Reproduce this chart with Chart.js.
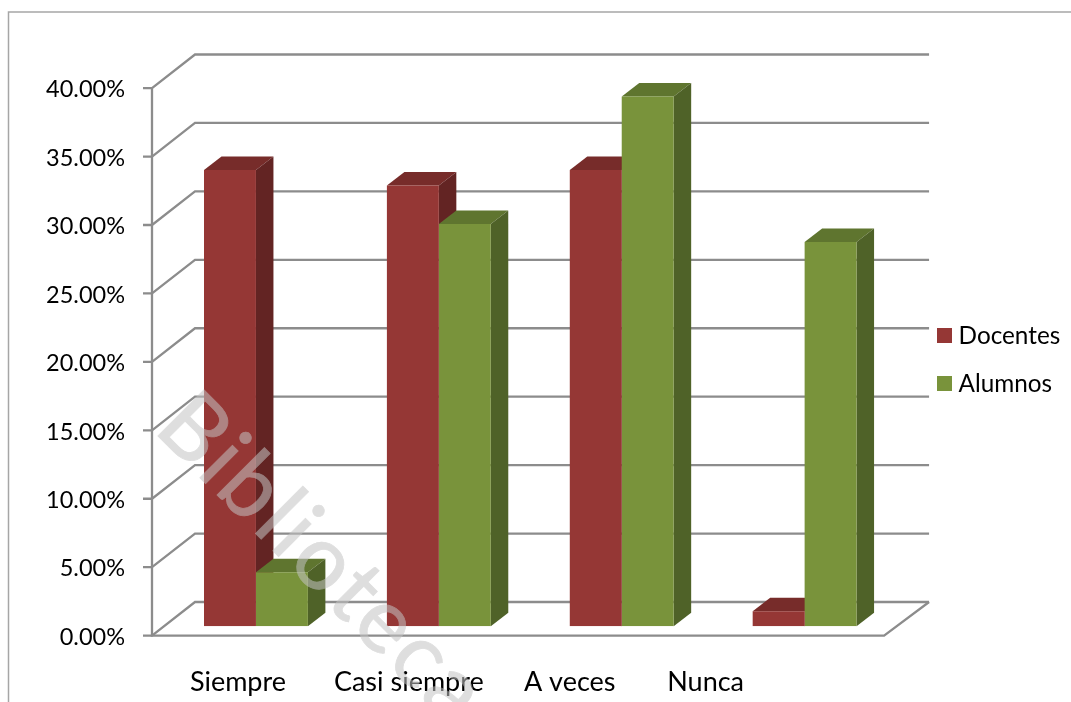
<!DOCTYPE html>
<html>
<head>
<meta charset="utf-8">
<style>html,body{margin:0;padding:0;background:#fff}canvas{display:block}</style>
<script src="https://cdn.jsdelivr.net/npm/chart.js@4"></script>
</head>
<body>
<canvas id="c" width="1071" height="702"></canvas>
<script>
const categories = ['Siempre', 'Casi siempre', 'A veces', 'Nunca'];
const docentes = [33.33, 32.2, 33.33, 1.1];
const alumnos = [3.95, 29.4, 38.7, 28.07];
const yMax = 40;
const yStep = 5;
const labelShift = [-18, -30, -52, -99];
const FONT = 'Lato';
const depth = { x: 17.5, y: 13.5 };
const wall = { frontX: -12.5, frontY: 9.3, backX: 30.5, backY: -24.3 };
const colors = ['#953735', '#79933b'];
const shades = [
  { top: '#772c2a', side: '#632423' },
  { top: '#5f752f', side: '#4f6228' }
];

function marker(color) {
  const m = document.createElement('canvas');
  m.width = 15; m.height = 15;
  const g = m.getContext('2d');
  g.fillStyle = color;
  g.fillRect(0, 0, 15, 15);
  return m;
}

const scene = {
  id: 'scene',
  beforeDatasetsDraw(chart) {
    const { ctx, chartArea: a, scales: { y } } = chart;
    ctx.save();
    ctx.strokeStyle = '#a6a6a6'; ctx.lineWidth = 1.5;
    ctx.beginPath(); ctx.moveTo(1071, 12); ctx.lineTo(8.5, 12); ctx.lineTo(8.5, 702); ctx.stroke();
    ctx.strokeStyle = '#8c8c8c'; ctx.lineWidth = 2.3;
    const fl = a.left + wall.frontX, bl = a.left + wall.backX, br = a.right + 33;
    for (let v = 0; v <= yMax; v += yStep) {
      const p = y.getPixelForValue(v);
      ctx.beginPath();
      ctx.moveTo(fl - 9, p + wall.frontY);
      ctx.lineTo(fl, p + wall.frontY);
      ctx.lineTo(bl, p + wall.backY);
      ctx.lineTo(br, p + wall.backY);
      ctx.stroke();
    }
    const p0 = y.getPixelForValue(0), pT = y.getPixelForValue(yMax);
    ctx.beginPath();
    ctx.moveTo(fl, pT + wall.frontY);
    ctx.lineTo(fl, p0 + wall.frontY);
    ctx.lineTo(a.right - 12, p0 + wall.frontY);
    ctx.lineTo(br, p0 + wall.backY);
    ctx.stroke();
    chart.data.datasets.forEach((ds, i) => {
      chart.getDatasetMeta(i).data.forEach(b => {
        const l = b.x - b.width / 2, r = b.x + b.width / 2;
        ctx.fillStyle = shades[i].top;
        ctx.beginPath();
        ctx.moveTo(l, b.y); ctx.lineTo(l + depth.x, b.y - depth.y);
        ctx.lineTo(r + depth.x, b.y - depth.y); ctx.lineTo(r, b.y);
        ctx.closePath(); ctx.fill();
        ctx.fillStyle = shades[i].side;
        ctx.beginPath();
        ctx.moveTo(r, b.y); ctx.lineTo(r + depth.x, b.y - depth.y);
        ctx.lineTo(r + depth.x, b.base - depth.y); ctx.lineTo(r, b.base);
        ctx.closePath(); ctx.fill();
      });
    });
    ctx.restore();
  },
  afterDraw(chart) {
    const { ctx, scales: { x } } = chart;
    ctx.save();
    ctx.fillStyle = '#000';
    ctx.font = '27px ' + FONT;
    ctx.textAlign = 'center';
    ctx.textBaseline = 'middle';
    categories.forEach((c, i) => ctx.fillText(c, x.getPixelForTick(i) + labelShift[i], 682));
    ctx.restore();
    // watermark: text with a stroke on its own layer, composited at one alpha
    const layer = document.createElement('canvas');
    layer.width = chart.width; layer.height = chart.height;
    const w = layer.getContext('2d');
    w.translate(152, 430);
    w.rotate(45 * Math.PI / 180);
    w.font = '91px ' + FONT;
    w.letterSpacing = '3px';
    w.fillStyle = w.strokeStyle = '#c4c4c4';
    w.lineWidth = 0.8;
    w.fillText('Biblioteca', 0, 0);
    w.strokeText('Biblioteca', 0, 0);
    ctx.save();
    ctx.globalAlpha = 0.55;
    ctx.drawImage(layer, 0, 0);
    ctx.restore();
  }
};

new Chart(document.getElementById('c'), {
  type: 'bar',
  data: {
    labels: categories,
    datasets: [
      { label: 'Docentes', data: docentes, backgroundColor: colors[0], pointStyle: marker(colors[0]) },
      { label: 'Alumnos', data: alumnos, backgroundColor: colors[1], pointStyle: marker(colors[1]) }
    ]
  },
  options: {
    responsive: false,
    animation: false,
    layout: { padding: { top: 78.8, left: 0, right: 0.75, bottom: 61 } },
    datasets: { bar: { barPercentage: 1, categoryPercentage: 0.568 } },
    plugins: {
      tooltip: { enabled: false },
      legend: {
        position: 'right',
        labels: {
          usePointStyle: true, pointStyleWidth: 4.7, boxHeight: 15,
          padding: 23.7, color: '#000', font: { family: FONT, size: 24.3 }
        }
      }
    },
    scales: {
      x: {
        grid: { display: false }, border: { display: false },
        ticks: { display: false },
        afterFit: s => { s.height = 14.7; }
      },
      y: {
        min: 0, max: yMax,
        grid: { display: false, drawTicks: false }, border: { display: false },
        ticks: {
          stepSize: yStep, padding: 39.5, labelOffset: 11, color: '#000',
          font: { family: FONT, size: 23.5 },
          callback: v => v.toFixed(2) + '%'
        },
        afterFit: s => { s.width = 164.5; }
      },
      spacer: {
        position: 'right', display: true,
        grid: { display: false }, border: { display: false }, ticks: { display: false },
        afterFit: s => { s.width = 21.95; }
      }
    }
  },
  plugins: [scene]
});
</script>
</body>
</html>
